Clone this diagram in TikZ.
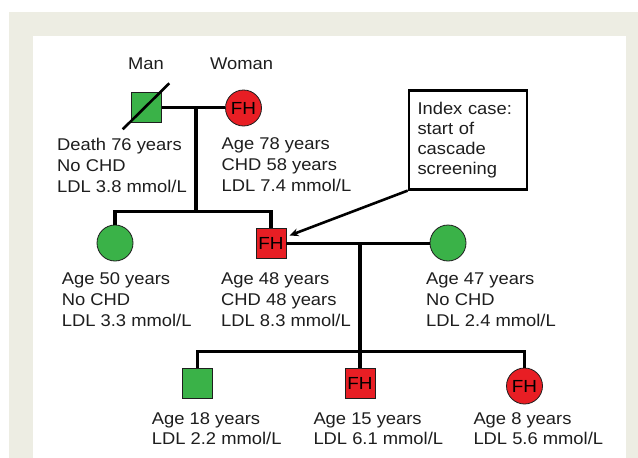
\documentclass[tikz,border=0pt]{standalone}
\usepackage{fontspec}
\setmainfont{Liberation Sans}[FakeStretch=1.08]
\usetikzlibrary{arrows.meta}
\definecolor{bgbeige}{RGB}{237,237,227}
\definecolor{fhred}{RGB}{232,30,36}
\definecolor{okgreen}{RGB}{58,178,72}
\definecolor{inkgray}{RGB}{30,30,30}
\tikzset{
  lbl/.style={font=\fontsize{17}{21}\selectfont, text=inkgray, align=left, inner sep=0pt, anchor=north west},
  lbltight/.style={lbl, font=\fontsize{17}{20}\selectfont},
  sq/.style={rectangle, draw=inkgray, line width=0.8pt, minimum size=30pt, inner sep=0pt, font=\fontsize{17.5}{17.5}\selectfont},
  ci/.style={circle, draw=inkgray, line width=0.8pt, minimum size=36pt, inner sep=0pt, font=\fontsize{17.5}{17.5}\selectfont},
  conn/.style={line width=3.2pt, black},
}
\begin{document}
\begin{tikzpicture}[x=1pt, y=-1pt]
\useasboundingbox (0,0) rectangle (638,458);
\fill[white] (0,0) rectangle (638,458);
\fill[bgbeige] (9,12) rectangle (638,458);
\fill[white] (33,36) rectangle (626,458);

% generation 1
\node[lbl, anchor=base west] (manlbl) at (128,69) {Man};
\node[lbl, anchor=base west] (womanlbl) at (210,69) {Woman};
\node[sq, fill=okgreen] (man) at (146.3,107.5) {};
\node[ci, fill=fhred] (woman) at (243.5,108) {FH};
\draw[line width=2.6pt, black] (122.7,129.3) coordinate (d1) -- (169.3,83.3) coordinate (d2);
\coordinate (c1) at (196,107.5);
\coordinate (s1) at (196,211.5);
\draw[conn] (man.east) -- (woman.west |- man.east);
\draw[conn] (c1) -- (s1);

\node[lbl] (t1) at (57,137.6) {Death 76 years\\No CHD\\LDL 3.8 mmol/L};
\node[lbl] (t2) at (221.5,137.6) {Age 78 years\\CHD 58 years\\LDL 7.4 mmol/L};

% generation 2
\node[ci, fill=okgreen] (sib) at (115,243) {};
\node[sq, fill=fhred] (index) at (271,243.3) {FH};
\node[ci, fill=okgreen] (wife) at (448,243) {};
\draw[conn] (sib.north) |- (s1) -| (index.north);
\coordinate (c2) at (360,243.3);
\coordinate (s2) at (360,351.5);
\draw[conn] (index.east) -- (wife.west |- index.east);
\draw[conn] (c2) -- (s2);

\node[lbl] (t3) at (61.7,272.6) {Age 50 years\\No CHD\\LDL 3.3 mmol/L};
\node[lbl] (t4) at (221,272.6) {Age 48 years\\CHD 48 years\\LDL 8.3 mmol/L};
\node[lbl] (t5) at (426,272.6) {Age 47 years\\No CHD\\LDL 2.4 mmol/L};

% index case box
\node[lbltight, draw=black, line width=2.6pt, anchor=north west, minimum width=118pt, minimum height=99pt, inner xsep=8.3pt, inner ysep=0pt, text width=101pt] (box) at (407.7,89) {Index case:\\start of\\cascade\\screening};
\coordinate (tip) at (289.5,235.5);
\draw[line width=2.6pt, black, -{Stealth[length=9pt, width=8pt]}] (box.south west) -- (tip);

% generation 3
\node[sq, fill=okgreen] (son) at (197.7,383) {};
\node[sq, fill=fhred] (son2) at (360,383) {FH};
\node[ci, fill=fhred] (dau) at (524.5,386) {FH};
\draw[conn] (son.north) |- (s2) -| (dau.north);
\draw[conn] (s2) -- (son2.north);

\node[lbltight] (t6) at (151.7,412.6) {Age 18 years\\LDL 2.2 mmol/L};
\node[lbltight] (t7) at (313.3,412.6) {Age 15 years\\LDL 6.1 mmol/L};
\node[lbltight] (t8) at (473.3,412.6) {Age 8 years\\LDL 5.6 mmol/L};
\end{tikzpicture}
\end{document}
